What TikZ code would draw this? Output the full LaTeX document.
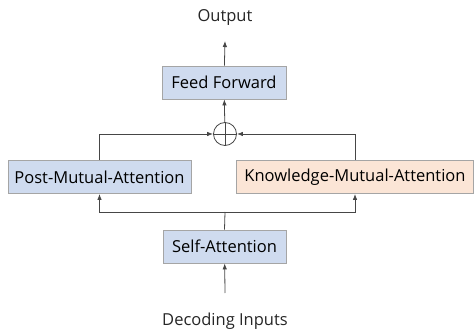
\documentclass[tikz,border=0pt]{standalone}
\usepackage{fontspec}
\setmainfont{Open Sans}
\usetikzlibrary{arrows.meta}

\definecolor{boxblue}{RGB}{207,219,239}
\definecolor{boxpeach}{RGB}{251,229,214}
\definecolor{boxborder}{RGB}{165,165,165}
\definecolor{linegray}{RGB}{70,70,70}

\begin{document}
\begin{tikzpicture}
[x=1pt,y=-1pt,
  lineDecorate/.style={draw=linegray,line width=0.8pt},%
  arrowDecorate/.style={lineDecorate,-{Latex[length=6pt,width=4.5pt]}},%
  boxDecorate/.style={shape=rectangle,draw=boxborder,fill=boxblue,line width=0.8pt,
    minimum height=33pt,inner sep=0pt,font=\fontsize{16.5}{19}\selectfont},%
  textDecorate/.style={font=\fontsize{16.5}{19}\selectfont,text=black!85}]
\useasboundingbox (0,0) rectangle (474,331);
%% nodes or vertices
\node (output) at (225,18) [textDecorate] {Output};
\node (ff) at (224,82.5) [boxDecorate,minimum width=124pt] {Feed Forward};
\node (plus) at (225,134) [shape=circle,lineDecorate,minimum size=23pt,inner sep=0pt] {};
\node (pma) at (99.5,177) [boxDecorate,minimum width=183pt] {Post-Mutual-Attention};
\node (kma) at (355,177) [boxDecorate,fill=boxpeach,minimum width=237pt] {Knowledge-Mutual-Attention};
\node (sa) at (224.5,246.5) [boxDecorate,minimum width=123pt] {Self-Attention};
\node (input) at (225,321) [textDecorate] {Decoding Inputs};
\coordinate (outtip) at (225,41);
\coordinate (split) at (225,212);
\coordinate (intail) at (225,293);
%% edges or lines
\path[lineDecorate] (plus.north) -- (plus.south) (plus.west) -- (plus.east);
\path
\foreach \startnode/\endnode in {ff/outtip, plus/ff, intail/sa}
{
  (\startnode) edge[arrowDecorate] (\endnode)
};
\draw[arrowDecorate] (pma.north) |- (plus.west);
\draw[arrowDecorate] (kma.north) |- (plus.east);
\draw[lineDecorate] (sa.north) -- (split);
\draw[arrowDecorate] (split) -| (pma.south);
\draw[arrowDecorate] (split) -| (kma.south);
\end{tikzpicture}
\end{document}
